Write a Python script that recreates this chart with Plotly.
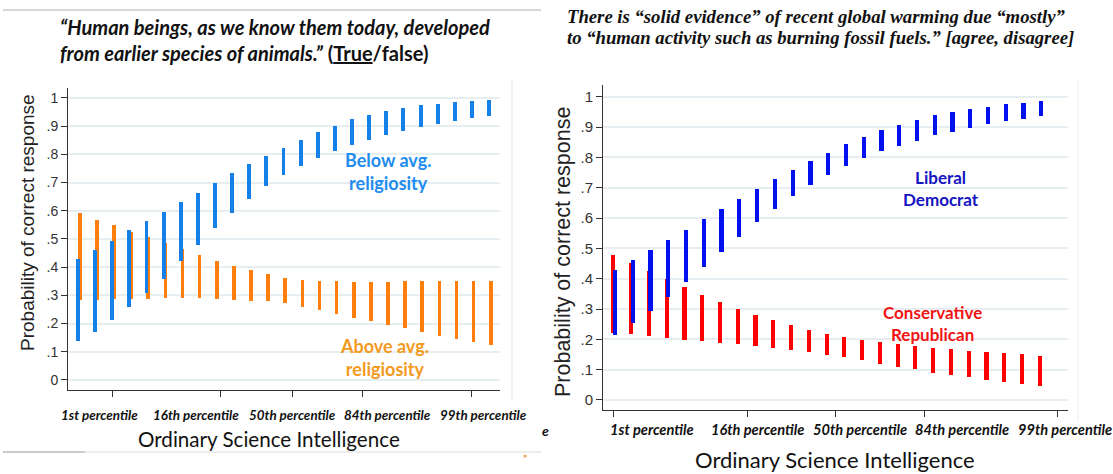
import plotly.graph_objects as go

# ---------------- data ----------------
osi_levels = list(range(25))

left_blue_hi = [0.429, 0.46, 0.494, 0.53, 0.564, 0.597, 0.63, 0.663, 0.697, 0.733, 0.765, 0.794, 0.824,
                0.851, 0.878, 0.902, 0.924, 0.941, 0.954, 0.963, 0.973, 0.979, 0.985, 0.989, 0.993]
left_blue_lo = [0.138, 0.171, 0.212, 0.257, 0.307, 0.359, 0.422, 0.479, 0.538, 0.591, 0.642, 0.689, 0.727,
                0.759, 0.787, 0.812, 0.833, 0.851, 0.869, 0.883, 0.896, 0.908, 0.917, 0.927, 0.935]
left_orange_hi = [0.591, 0.567, 0.548, 0.525, 0.506, 0.485, 0.465, 0.443, 0.421, 0.404, 0.389, 0.375, 0.363,
                  0.355, 0.35, 0.35, 0.348, 0.348, 0.348, 0.35, 0.35, 0.35, 0.35, 0.35, 0.352]
left_orange_lo = [0.284, 0.284, 0.286, 0.288, 0.288, 0.29, 0.29, 0.29, 0.288, 0.284, 0.281, 0.279, 0.272,
                  0.259, 0.248, 0.233, 0.221, 0.21, 0.196, 0.183, 0.17, 0.157, 0.145, 0.134, 0.124]

right_blue_hi = [0.429, 0.461, 0.495, 0.528, 0.561, 0.596, 0.63, 0.663, 0.696, 0.729, 0.759, 0.788, 0.814,
                 0.843, 0.866, 0.889, 0.908, 0.924, 0.939, 0.948, 0.958, 0.967, 0.975, 0.98, 0.985]
right_blue_lo = [0.214, 0.253, 0.295, 0.341, 0.389, 0.44, 0.487, 0.537, 0.586, 0.631, 0.673, 0.71, 0.742,
                 0.773, 0.797, 0.82, 0.839, 0.855, 0.873, 0.885, 0.898, 0.91, 0.92, 0.927, 0.937]
right_red_hi = [0.478, 0.452, 0.425, 0.398, 0.374, 0.347, 0.323, 0.3, 0.28, 0.263, 0.247, 0.231, 0.218,
                0.207, 0.198, 0.19, 0.184, 0.178, 0.172, 0.167, 0.163, 0.158, 0.155, 0.151, 0.146]
right_red_lo = [0.22, 0.216, 0.21, 0.205, 0.199, 0.195, 0.188, 0.184, 0.178, 0.172, 0.166, 0.158, 0.149,
                0.141, 0.132, 0.12, 0.11, 0.101, 0.09, 0.082, 0.075, 0.066, 0.058, 0.052, 0.047]

percentile_labels = ["1st percentile", "16th percentile", "50th percentile", "84th percentile", "99th percentile"]
left_tick_vals = [2.04, 8.3, 12.5, 16.6, 22.95]
right_tick_vals = [-0.11, 7.43, 12.39, 17.4, 24.9]
y_tick_vals = [0, 0.1, 0.2, 0.3, 0.4, 0.5, 0.6, 0.7, 0.8, 0.9, 1]
y_tick_text = ["0", ".1", ".2", ".3", ".4", ".5", ".6", ".7", ".8", ".9", "1"]

# ---------------- figure ----------------
W, H = 1113, 474
def px(x):
    return x / W
def py(y):
    return 1 - y / H

fig = go.Figure()

def add_bars(xs, lo, hi, color, width, xaxis, yaxis, offset):
    fig.add_trace(go.Bar(
        x=[x + offset for x in xs], base=lo, y=[h - l for h, l in zip(hi, lo)],
        width=width, marker=dict(color=color, line=dict(width=0)),
        xaxis=xaxis, yaxis=yaxis, showlegend=False, hoverinfo="skip"))

# left panel: orange behind, blue in front
add_bars(osi_levels, left_orange_lo, left_orange_hi, "#ff7f0e", 0.21, "x", "y", 0.1)
add_bars(osi_levels, left_blue_lo, left_blue_hi, "#1580e8", 0.23, "x", "y", 0.0)
# right panel: red behind, blue in front
add_bars(osi_levels, right_red_lo, right_red_hi, "#ff0000", 0.23, "x2", "y2", -0.09)
add_bars(osi_levels, right_blue_lo, right_blue_hi, "#0010ee", 0.24, "x2", "y2", 0.0)

grid_col = "#e6eef1"
axis_common = dict(showline=True, linecolor="#333333", linewidth=1, ticks="outside",
                   ticklen=6, tickcolor="#333333", zeroline=False, fixedrange=True)

fig.update_layout(
    width=W, height=H, margin=dict(l=0, r=0, t=0, b=0),
    paper_bgcolor="white", plot_bgcolor="white", barmode="overlay", bargap=0,
    xaxis=dict(domain=[px(68), px(500)], range=[-0.584, 24.64], tickvals=left_tick_vals,
               showticklabels=False, showgrid=False, anchor="y", **axis_common),
    yaxis=dict(domain=[py(390), py(88)], range=[-0.0355, 1.035], tickvals=y_tick_vals,
               ticktext=y_tick_text, showgrid=True, gridcolor=grid_col, gridwidth=1.5,
               tickfont=dict(family="Liberation Sans", size=14, color="#333333"),
               anchor="x", **axis_common),
    xaxis2=dict(domain=[px(603), px(1068)], range=[-0.676, 25.5], tickvals=right_tick_vals,
                showticklabels=False, showgrid=False, anchor="y2", **axis_common),
    yaxis2=dict(domain=[py(410), py(85)], range=[-0.033, 1.0386], tickvals=y_tick_vals,
                ticktext=y_tick_text, showgrid=True, gridcolor=grid_col, gridwidth=1.5,
                tickfont=dict(family="Liberation Sans", size=15, color="#333333"),
                anchor="x2", **axis_common),
)

ann = []
def paper_text(x, y, text, font, xanchor="center", **kw):
    ann.append(dict(x=px(x), y=py(y), xref="paper", yref="paper", xanchor=xanchor, yanchor="middle",
                    text=text, showarrow=False, font=font, **kw))

# titles
cal_bi = dict(family="Lato", size=20, color="#111111")
paper_text(58, 27, "<b><i>“Human beings, as we know them today, developed</i></b>", cal_bi, xanchor="left")
paper_text(58, 53, "<b><i>from earlier species of animals.”</i> (<u>True</u>/false)</b>", cal_bi, xanchor="left")
tnr = dict(family="Liberation Serif", size=18.7, color="#111111")
paper_text(565, 16, "<b><i>There is “solid evidence” of recent global warming due “mostly”</i></b>", tnr, xanchor="left")
paper_text(565, 37, "<b><i>to “human activity such as burning fossil fuels.” [agree, disagree]</i></b>", tnr, xanchor="left")

# y titles
paper_text(27, 223, "Probability of correct response",
           dict(family="Liberation Sans", size=19, color="#222222"), textangle=-90)
paper_text(563, 252, "Probability of correct response",
           dict(family="Liberation Sans", size=21.5, color="#222222"), textangle=-90)

# percentile labels
left_lab_x = [99, 196, 292, 387, 483]
right_lab_x = [652, 757, 860, 962, 1065]
for lab, lx in zip(percentile_labels, left_lab_x):
    paper_text(lx, 415, "<b><i>" + lab + "</i></b>", dict(family="Lato", size=13.4, color="#111111"))
for lab, lx in zip(percentile_labels, right_lab_x):
    paper_text(lx, 429, "<b><i>" + lab + "</i></b>", dict(family="Lato", size=14.6, color="#111111"))
paper_text(545, 430, "<b><i>e</i></b>", dict(family="Lato", size=14, color="#111111"))

# x titles
paper_text(269, 439, "Ordinary Science Intelligence", dict(family="Lato", size=20.6, color="#111111"))
paper_text(835, 459, "Ordinary Science Intelligence", dict(family="Lato", size=22, color="#111111"))

# series labels
ann.append(dict(x=18.1, y=0.739, xref="x", yref="y", showarrow=False, xanchor="center", yanchor="middle",
                text="<b>Below avg.<br>religiosity</b>", font=dict(family="Lato", size=18, color="#1e8cf0")))
ann.append(dict(x=17.9, y=0.078, xref="x", yref="y", showarrow=False, xanchor="center", yanchor="middle",
                text="<b>Above avg.<br>religiosity</b>", font=dict(family="Lato", size=18, color="#f39a1e")))
ann.append(dict(x=18.36, y=0.696, xref="x2", yref="y2", showarrow=False, xanchor="center", yanchor="middle",
                text="<b>Liberal<br>Democrat</b>", font=dict(family="Lato", size=17, color="#1414c0")))
ann.append(dict(x=17.85, y=0.251, xref="x2", yref="y2", showarrow=False, xanchor="center", yanchor="middle",
                text="<b>Conservative<br>Republican</b>", font=dict(family="Lato", size=17, color="#f01414")))

fig.update_layout(annotations=ann)

# decorative frame lines from the composite image
shapes = [
    dict(type="line", xref="paper", yref="paper", x0=px(3), x1=px(541), y0=py(10), y1=py(10),
         line=dict(color="#c8c8c8", width=1.5)),
    dict(type="line", xref="paper", yref="paper", x0=px(3), x1=px(541), y0=py(452), y1=py(452),
         line=dict(color="#dcdcdc", width=1.2)),
    dict(type="line", xref="paper", yref="paper", x0=px(3), x1=px(85), y0=py(452), y1=py(452),
         line=dict(color="#a8a8a8", width=1.2)),
    dict(type="line", xref="paper", yref="paper", x0=px(512), x1=px(512), y0=py(80), y1=py(400),
         line=dict(color="#f2f2f2", width=1.5)),
    dict(type="line", xref="paper", yref="paper", x0=px(1078), x1=px(1078), y0=py(80), y1=py(420),
         line=dict(color="#f2f2f2", width=1.5)),
    dict(type="circle", xref="paper", yref="paper", x0=px(523.5), x1=px(526.5), y0=py(457.5), y1=py(454.5),
         fillcolor="#f5a050", line=dict(width=0)),
]
fig.update_layout(shapes=shapes)

fig.write_html("out.html", config={"displayModeBar": False},
               post_script="document.body.style.margin='0';document.body.style.overflow='hidden';")
